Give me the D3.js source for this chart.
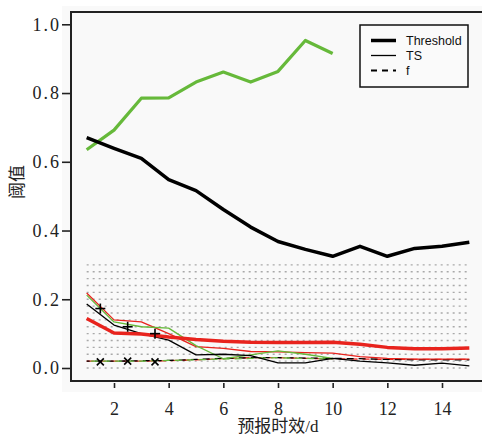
<!DOCTYPE html>
<html>
<head>
<meta charset="utf-8">
<script src="https://cdn.jsdelivr.net/npm/d3@7"></script>
<style>
  html, body { margin: 0; padding: 0; background: #ffffff; }
  svg { display: block; }
</style>
</head>
<body>
<svg id="chart" width="482" height="436"></svg>
<script>
// ---------- data ----------
const leadDays = [1, 2, 3, 4, 5, 6, 7, 8, 9, 10, 11, 12, 13, 14, 15];
const xTicks = [2, 4, 6, 8, 10, 12, 14];
const yTicks = [0.0, 0.2, 0.4, 0.6, 0.8, 1.0];
const gridLevels = [0.00, 0.02, 0.04, 0.06, 0.08, 0.10, 0.12, 0.14, 0.16, 0.18, 0.20, 0.22, 0.24, 0.26, 0.28, 0.30];

// Threshold (thick)
const thresholdGreen = [0.635, 0.692, 0.785, 0.786, 0.832, 0.861, 0.832, 0.863, 0.953, 0.915];
const thresholdBlack = [0.670, 0.639, 0.610, 0.548, 0.516, 0.461, 0.410, 0.368, 0.345, 0.325, 0.354, 0.325, 0.348, 0.354, 0.366];
const thresholdRed   = [0.144, 0.102, 0.099, 0.090, 0.083, 0.078, 0.075, 0.074, 0.074, 0.075, 0.069, 0.060, 0.056, 0.056, 0.058];

// TS (thin solid)
const tsGreen = [0.212, 0.134, 0.120, 0.116, 0.065, 0.027, 0.038, 0.050, 0.040, 0.028];
const tsBlack = [0.186, 0.125, 0.100, 0.081, 0.038, 0.040, 0.036, 0.015, 0.015, 0.028, 0.020, 0.015, 0.008, 0.014, 0.006];
const tsRed   = [0.218, 0.140, 0.134, 0.100, 0.062, 0.057, 0.048, 0.047, 0.045, 0.043, 0.033, 0.028, 0.026, 0.026, 0.026];

// f (dashed)
const fGreen = [0.020, 0.020, 0.020, 0.022, 0.024, 0.026, 0.028, 0.030, 0.028, 0.026];
const fBlack = [0.020, 0.020, 0.021, 0.022, 0.025, 0.028, 0.030, 0.030, 0.029, 0.028, 0.027, 0.025, 0.024, 0.024, 0.024];
const fRed   = [0.020, 0.020, 0.020, 0.021, 0.024, 0.027, 0.030, 0.030, 0.028, 0.027, 0.026, 0.025, 0.025, 0.025, 0.025];

// markers
const markerX = [1.5, 2.5, 3.5];
const plusValues = [0.173, 0.120, 0.100];
const crossValues = [0.018, 0.020, 0.018];

const legendLabels = ["Threshold", "TS", "f"];

// ---------- drawing ----------
const GREEN = "#66b93a", RED = "#e8231d", BLACK = "#000000";
const svg = d3.select("#chart");

const x = d3.scaleLinear().domain([1, 15]).range([86.67, 469.33]);
const y = d3.scaleLinear().domain([0, 1]).range([368, 24.3]);

// panel background
svg.append("rect").attr("x", 62).attr("y", 6).attr("width", 420).attr("height", 386).attr("fill", "#f9f9f9");

// dotted reference lines
svg.append("g").selectAll("line").data(gridLevels).join("line")
  .attr("x1", x(1)).attr("x2", x(15))
  .attr("y1", d => y(d)).attr("y2", d => y(d))
  .attr("stroke", "#a9a9a9").attr("stroke-width", 1.4).attr("stroke-dasharray", "2,4");

const line = d3.line().x((d, i) => x(leadDays[i])).y(d => y(d));

function draw(data, color, width, dash, offset) {
  svg.append("path").datum(data)
    .attr("d", line).attr("fill", "none")
    .attr("stroke", color).attr("stroke-width", width)
    .attr("stroke-linejoin", "round")
    .attr("stroke-dasharray", dash || null)
    .attr("stroke-dashoffset", offset || 0);
}

// f dashed
draw(fRed, RED, 1.3, "7,5", 0);
draw(fBlack, BLACK, 1.3, "7,5", 4);
draw(fGreen, GREEN, 1.3, "7,5", 8);
// TS thin
draw(tsRed, RED, 1.3);
draw(tsGreen, GREEN, 1.3);
draw(tsBlack, BLACK, 1.3);
// Thresholds thick
draw(thresholdRed, RED, 3.5);
draw(thresholdGreen, GREEN, 3.2);
draw(thresholdBlack, BLACK, 3.5);

// markers
const mg = svg.append("g").attr("stroke", "#000").attr("stroke-width", 1.6);
markerX.forEach((mx, i) => {
  const px = x(mx), py = y(plusValues[i]);
  mg.append("line").attr("x1", px - 5).attr("x2", px + 5).attr("y1", py).attr("y2", py);
  mg.append("line").attr("x1", px).attr("x2", px).attr("y1", py - 5).attr("y2", py + 5);
  const cx = x(mx), cy = y(crossValues[i]);
  mg.append("line").attr("x1", cx - 3.5).attr("x2", cx + 3.5).attr("y1", cy - 3.5).attr("y2", cy + 3.5);
  mg.append("line").attr("x1", cx - 3.5).attr("x2", cx + 3.5).attr("y1", cy + 3.5).attr("y2", cy - 3.5);
});

// frame lines
const fr = svg.append("g").attr("stroke", "#222").attr("stroke-width", 2);
fr.append("line").attr("x1", 71).attr("x2", 71).attr("y1", 11).attr("y2", 382);
fr.append("line").attr("x1", 70).attr("x2", 482).attr("y1", 12).attr("y2", 12);
fr.append("line").attr("x1", 70).attr("x2", 482).attr("y1", 381).attr("y2", 381);

// y axis
const yAxis = svg.append("g").attr("transform", "translate(70,0)")
  .call(d3.axisLeft(y).tickValues(yTicks).tickFormat(d3.format(".1f")).tickSize(8).tickPadding(3));
yAxis.select(".domain").remove();
yAxis.selectAll(".tick line").attr("stroke", "#222").attr("stroke-width", 1.6);
yAxis.selectAll(".tick text")
  .attr("font-family", "'Liberation Serif', 'DejaVu Serif', serif")
  .attr("font-size", 18).attr("fill", "#222").attr("letter-spacing", 2).attr("dx", 2);

// x axis
const xAxis = svg.append("g").attr("transform", "translate(0,383)")
  .call(d3.axisBottom(x).tickValues(xTicks).tickFormat(d3.format("d")).tickSize(5).tickPadding(14));
xAxis.select(".domain").remove();
xAxis.selectAll(".tick line").attr("stroke", "#222").attr("stroke-width", 1.6);
xAxis.selectAll(".tick text")
  .attr("font-family", "'Liberation Serif', 'DejaVu Serif', serif")
  .attr("font-size", 18).attr("fill", "#222");

// axis titles
svg.append("text").attr("x", x(8)).attr("y", 432).attr("text-anchor", "middle")
  .attr("font-family", "'Liberation Serif', 'Noto Sans CJK SC', serif").attr("font-size", 17).attr("fill", "#222")
  .text("预报时效/d");
svg.append("text").attr("transform", "translate(23,182) rotate(-90)").attr("text-anchor", "middle")
  .attr("font-family", "'Noto Sans CJK SC', serif").attr("font-size", 17).attr("fill", "#222")
  .text("阈值");

// legend
const lg = svg.append("g");
lg.append("rect").attr("x", 360).attr("y", 25).attr("width", 108).attr("height", 62)
  .attr("fill", "#fafafa").attr("stroke", "#111").attr("stroke-width", 1.5);
const legendWidths = [3.5, 1.3, 1.8];
const legendDash = [null, null, "6,5"];
legendLabels.forEach((lab, i) => {
  const ly = 40.5 + i * 15;
  lg.append("line").attr("x1", 371).attr("x2", 396).attr("y1", ly).attr("y2", ly)
    .attr("stroke", "#000").attr("stroke-width", legendWidths[i]).attr("stroke-dasharray", legendDash[i]);
  lg.append("text").attr("x", 406).attr("y", ly + 4.5)
    .attr("font-family", "'Liberation Sans', Arial, sans-serif").attr("font-size", 12.5).attr("fill", "#111")
    .text(lab);
});
</script>
</body>
</html>
